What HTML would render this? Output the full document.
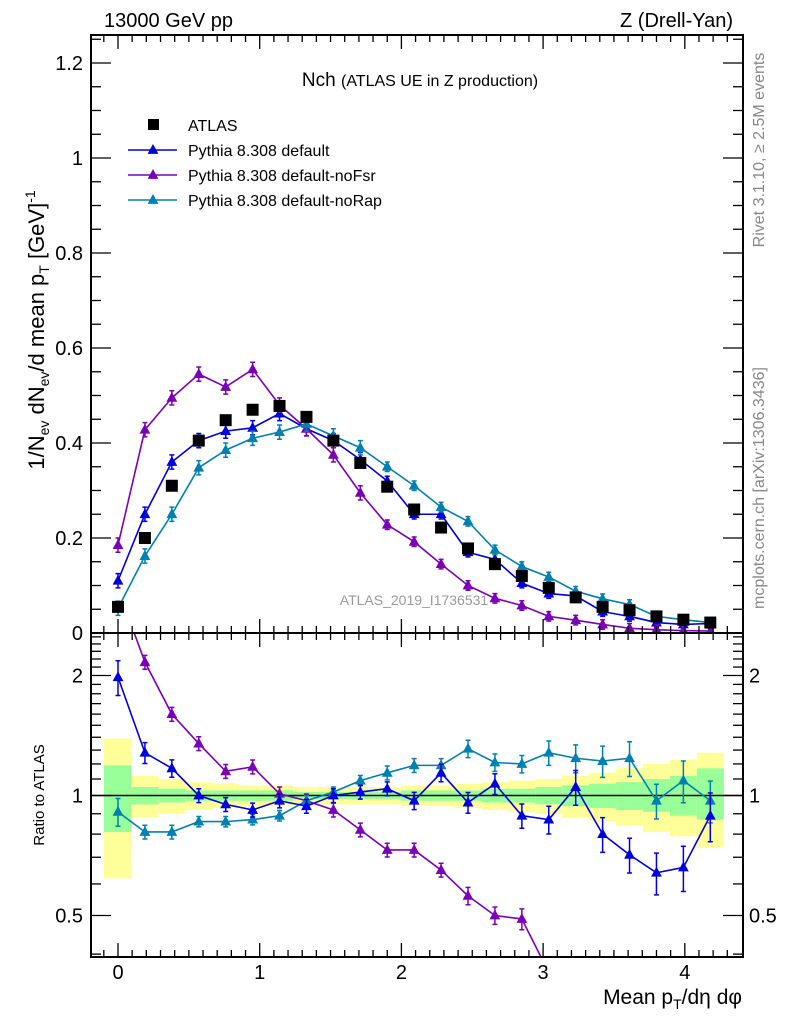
<!DOCTYPE html>
<html><head><meta charset="utf-8"><style>
html,body{margin:0;padding:0;background:#fff;overflow:hidden;width:786px;height:1024px;}
svg{display:block;font-family:"Liberation Sans",Arial,sans-serif;}
</style></head><body>
<svg id="chart" width="786" height="1024" viewBox="0 0 786 1024" xmlns="http://www.w3.org/2000/svg">
<g id="bands"></g>
<g id="marks"></g>
<g id="axes"></g>
<text x="104" y="27" font-size="20">13000 GeV pp</text>
<text x="733" y="27" font-size="20" text-anchor="end">Z (Drell-Yan)</text>
<text x="420" y="86" font-size="19" text-anchor="middle">Nch <tspan font-size="16">(ATLAS UE in Z production)</tspan></text>
<text x="414" y="605" font-size="14" fill="#999" text-anchor="middle">ATLAS_2019_I1736531</text>
<text transform="translate(764,150) rotate(-90)" font-size="16" fill="#888" text-anchor="middle">Rivet 3.1.10, ≥ 2.5M events</text>
<text transform="translate(764,488) rotate(-90)" font-size="16" fill="#888" text-anchor="middle">mcplots.cern.ch [arXiv:1306.3436]</text>
<text transform="translate(44,330) rotate(-90)" font-size="22" text-anchor="middle">1/N<tspan font-size="14" dy="5">ev</tspan><tspan dy="-5"> dN</tspan><tspan font-size="14" dy="5">ev</tspan><tspan dy="-5">/d mean p</tspan><tspan font-size="14" dy="5">T</tspan><tspan dy="-5">  [GeV]</tspan><tspan font-size="14" dy="-9">-1</tspan></text>
<text transform="translate(44,795) rotate(-90)" font-size="15" text-anchor="middle">Ratio to ATLAS</text>
<text x="742" y="1004" font-size="21" text-anchor="end">Mean p<tspan font-size="14" dy="5">T</tspan><tspan dy="-5">/dη dφ</tspan></text>
<g id="legend"></g>
</svg>
<script>
const xs=[0,0.19,0.38,0.57,0.76,0.95,1.14,1.33,1.52,1.71,1.9,2.09,2.28,2.47,2.66,2.85,3.04,3.23,3.42,3.61,3.8,3.99,4.18];
const atlas=[0.055,0.20,0.31,0.405,0.448,0.47,0.478,0.455,0.405,0.358,0.308,0.26,0.222,0.178,0.145,0.12,0.095,0.075,0.055,0.048,0.035,0.028,0.022];
const pyDefault=[0.11,0.25,0.36,0.405,0.425,0.432,0.462,0.43,0.405,0.365,0.32,0.25,0.25,0.17,0.155,0.105,0.083,0.078,0.045,0.035,0.022,0.018,0.02];
const pyNoFsr=[0.185,0.428,0.495,0.545,0.518,0.555,0.48,0.43,0.375,0.295,0.228,0.192,0.145,0.1,0.073,0.058,0.035,0.027,0.018,0.01,0.007,0.005,0.004];
const pyNoRap=[0.052,0.162,0.25,0.348,0.385,0.41,0.423,0.44,0.415,0.39,0.35,0.31,0.265,0.235,0.175,0.14,0.118,0.088,0.072,0.06,0.035,0.028,0.022];
const rDefault=[1.98,1.28,1.17,1.0,0.95,0.92,0.97,0.94,1.0,1.02,1.04,0.97,1.14,0.96,1.07,0.89,0.87,1.05,0.80,0.71,0.64,0.66,0.89];
const rNoFsr=[3.3,2.16,1.6,1.35,1.15,1.18,1.01,0.97,0.92,0.82,0.73,0.73,0.65,0.56,0.50,0.49,0.36,0.32,0.3,0.2,0.2,0.18,0.18];
const rNoRap=[0.91,0.81,0.81,0.86,0.86,0.87,0.89,0.97,1.02,1.09,1.14,1.19,1.19,1.31,1.21,1.2,1.28,1.24,1.22,1.24,0.97,1.09,0.97];
const rErrDefault=[0.1,0.06,0.05,0.04,0.04,0.04,0.04,0.04,0.04,0.04,0.04,0.05,0.05,0.06,0.06,0.07,0.08,0.1,0.1,0.1,0.12,0.13,0.14];
const rErrNoFsr=[0.1,0.04,0.04,0.04,0.04,0.04,0.04,0.04,0.04,0.04,0.04,0.04,0.04,0.05,0.05,0.06,0.06,0.06,0.06,0.06,0.06,0.06,0.06];
const rErrNoRap=[0.08,0.04,0.04,0.03,0.03,0.03,0.03,0.03,0.03,0.03,0.04,0.04,0.04,0.05,0.05,0.05,0.07,0.08,0.09,0.1,0.1,0.12,0.12];
const yelHi=[1.39,1.12,1.1,1.08,1.07,1.06,1.06,1.05,1.05,1.05,1.05,1.06,1.06,1.07,1.08,1.09,1.1,1.12,1.14,1.17,1.2,1.23,1.28];
const yelLo=[0.62,0.88,0.9,0.92,0.93,0.94,0.94,0.95,0.95,0.95,0.95,0.94,0.94,0.93,0.92,0.91,0.9,0.88,0.86,0.84,0.81,0.79,0.74];
const grnHi=[1.19,1.05,1.04,1.03,1.03,1.03,1.03,1.02,1.02,1.02,1.02,1.03,1.03,1.03,1.04,1.04,1.05,1.06,1.07,1.08,1.1,1.12,1.17];
const grnLo=[0.81,0.95,0.96,0.97,0.97,0.97,0.97,0.98,0.98,0.98,0.98,0.97,0.97,0.97,0.96,0.96,0.95,0.94,0.93,0.92,0.91,0.89,0.87];
const mainTicks=["0","0.2","0.4","0.6","0.8","1","1.2"];
const xTicks=["0","1","2","3","4"];
const ratioTicks=["0.5","1","2"];

const NS="http://www.w3.org/2000/svg";
const L=91,R=743,T=35,M=633,B=957;
const X=v=>118+v*141.7;
const Y=v=>M-v*475;
const YR=v=>795.5-Math.log2(v)*120;
function mk(tag,attrs,parent){const e=document.createElementNS(NS,tag);for(const k in attrs)e.setAttribute(k,attrs[k]);parent.appendChild(e);return e;}
const bands=document.getElementById('bands'),marks=document.getElementById('marks'),axes=document.getElementById('axes'),legend=document.getElementById('legend');

xs.forEach((x,i)=>{
  const x0=i===0?X(-0.1):X(x-0.095), x1=X(x+0.095);
  const yt=Math.max(M,YR(yelHi[i])), yb=Math.min(B,YR(yelLo[i]));
  let r=mk('rect',{x:x0,y:yt,width:x1-x0,height:yb-yt,fill:'#ffff99'},bands);
  
  
  let g=mk('rect',{x:x0,y:YR(grnHi[i]),width:x1-x0,height:YR(grnLo[i])-YR(grnHi[i]),fill:'#99ff99'},bands);
  
  
});

const defs=mk('defs',{},document.getElementById('chart'));
mk('rect',{x:L,y:T,width:R-L,height:M-T},mk('clipPath',{id:'cm'},defs));
mk('rect',{x:L,y:M,width:R-L,height:B-M},mk('clipPath',{id:'cr'},defs));

function tri(cx,cy,s,col,parent,name){
  const p=mk('path',{d:`M${cx} ${cy-s}L${cx+s*0.9} ${cy+s*0.65}L${cx-s*0.9} ${cy+s*0.65}Z`,fill:col},parent);
  
  
}
function series(vals,errs,col,yf,clipId,name,errAbs){
  const g=mk('g',{'clip-path':`url(#${clipId})`},marks);
  
  
  mk('polyline',{points:vals.map((v,i)=>X(xs[i])+','+yf(v)).join(' '),fill:'none',stroke:col,'stroke-width':1.6},g);
  vals.forEach((v,i)=>{
    const e=errs[i];
    const y1=yf(errAbs?v+e:v*(1+e)),y2=yf(errAbs?Math.max(v-e,0.001):v*(1-e));
    const x=X(xs[i]);
    mk('path',{d:`M${x} ${y1}V${y2}M${x-2.5} ${y1}H${x+2.5}M${x-2.5} ${y2}H${x+2.5}`,stroke:col,'stroke-width':1.5,fill:'none'},g);
    tri(x,yf(v),6,col,g,name+'-point');
  });
}
const mainErr=xs.map((_,i)=>i<10?0.015:0.01);
series(pyDefault,mainErr,'#0000dd',Y,'cm','pythia-default-main',true);
series(pyNoFsr,mainErr,'#7a00b5',Y,'cm','pythia-nofsr-main',true);
series(pyNoRap,mainErr,'#0080b0',Y,'cm','pythia-norap-main',true);
atlas.forEach((v,i)=>{
  const r=mk('rect',{x:X(xs[i])-6,y:Y(v)-6,width:12,height:12,fill:'#000'},marks);
  
  
});
mk('line',{x1:L,x2:R,y1:YR(1),y2:YR(1),stroke:'#000','stroke-width':1.5},marks);
series(rNoFsr,rErrNoFsr,'#7a00b5',YR,'cr','pythia-nofsr-ratio',false);
series(rNoRap,rErrNoRap,'#0080b0',YR,'cr','pythia-norap-ratio',false);
series(rDefault,rErrDefault,'#0000dd',YR,'cr','pythia-default-ratio',false);

mk('rect',{x:L,y:T,width:R-L,height:M-T,fill:'none',stroke:'#000','stroke-width':2},axes);
mk('rect',{x:L,y:M,width:R-L,height:B-M,fill:'none',stroke:'#000','stroke-width':2},axes);
function tick(x1,y1,x2,y2){mk('line',{x1,y1,x2,y2,stroke:'#000','stroke-width':1.3},axes);}
for(let k=-1;k<=43;k++){const v=k/10,x=X(v);if(x<L||x>R)continue;const len=(k%10===0)?14:7;
  tick(x,T,x,T+len);tick(x,M,x,M-len);tick(x,M,x,M+len);tick(x,B,x,B-len);}
xTicks.forEach(t=>{const tx=mk('text',{x:X(+t),y:B+22,'font-size':20,'text-anchor':'middle'},axes);tx.textContent=t;
  });
for(let k=0;k<=25;k++){const v=k*0.05,y=Y(v);if(y<T)continue;const len=(k%4===0)?20:10;tick(L,y,L+len,y);tick(R,y,R-len,y);}
mainTicks.forEach(t=>{const tx=mk('text',{x:L-8,y:Y(+t)+7,'font-size':20,'text-anchor':'end'},axes);tx.textContent=t;
  });
[0.4,0.6,0.7,0.8,0.9,1.1,1.2,1.3,1.4,1.5,1.6,1.7,1.8,1.9,2.1,2.2,2.3,2.4,2.5].forEach(v=>{const y=YR(v);if(y<M||y>B)return;tick(L,y,L+10,y);tick(R,y,R-10,y);});
ratioTicks.forEach(t=>{const y=YR(+t);tick(L,y,L+20,y);tick(R,y,R-20,y);
  const a=mk('text',{x:L-8,y:y+7,'font-size':20,'text-anchor':'end'},axes);a.textContent=t;
  
  const b=mk('text',{x:R+6,y:y+7,'font-size':20},axes);b.textContent=t;
  });

const legNames=["ATLAS","Pythia 8.308 default","Pythia 8.308 default-noFsr","Pythia 8.308 default-noRap"];
const legCols=["#000","#0000dd","#7a00b5","#0080b0"];
legNames.forEach((n,i)=>{const y=125+i*25;
  const g=mk('g',{},legend);
  
  
  if(i===0)mk('rect',{x:148,y:y-6,width:11,height:11,fill:'#000'},g);
  else{mk('line',{x1:128,x2:177,y1:y,y2:y,stroke:legCols[i],'stroke-width':1.6},g);tri(153,y,6,legCols[i],g,'legend-marker');}
  const t=mk('text',{x:188,y:y+6,'font-size':16},g);t.textContent=n;});
</script>
</body></html>
